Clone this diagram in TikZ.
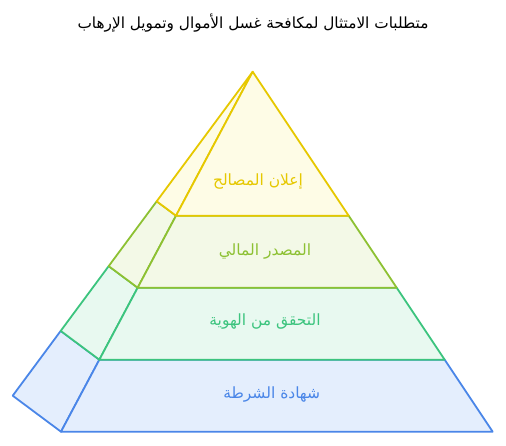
\documentclass[tikz,border=0pt]{standalone}
\usepackage{fontspec}
\usetikzlibrary{calc}
\TeXXeTstate=1
\newfontfamily\arabicfont[Script=Arabic]{DejaVu Sans}
\definecolor{yelline}{HTML}{E6C800}
\definecolor{yelfill}{HTML}{FEFCE6}
\definecolor{oliline}{HTML}{8DC133}
\definecolor{olifill}{HTML}{F3F9E7}
\definecolor{grnline}{HTML}{3CC47E}
\definecolor{grnfill}{HTML}{E8F9F0}
\definecolor{bluline}{HTML}{4A86E8}
\definecolor{blufill}{HTML}{E4EEFD}

\begin{document}
\begin{tikzpicture}[x=1pt, y=-1pt,
    slab/.style={line width=1.8pt, line join=round},
    lbl/.style={font=\arabicfont\fontsize{15.5}{18}\selectfont}]
    \useasboundingbox (0,0) rectangle (506,445);

    \coordinate (apex) at (252.7,71.7);
    \coordinate (fl)   at (61,431.7);
    \coordinate (fr)   at (492.7,431.7);
    \coordinate (bl)   at (12.7,395.7);

    \node[lbl, font=\arabicfont\fontsize{15.3}{18}\selectfont] (title) at (253,23)
        {\beginR متطلبات الامتثال لمكافحة غسل الأموال وتمويل الإرهاب\endR};

    % layers, bottom first so the upper edges stay on top
    \foreach \n/\lo/\hi/\col/\lx/\ly/\txt in {
        4/0.8/1/blu/271.7/394/{شهادة الشرطة},
        3/0.6/0.8/grn/265/322/{التحقق من الهوية},
        2/0.4/0.6/oli/265/251/{المصدر المالي},
        1/0/0.4/yel/258/181/{إعلان المصالح}}
    {
        \filldraw[slab, draw=\col line, fill=\col fill]
            ($(apex)!\hi!(bl)$) -- ($(apex)!\lo!(bl)$) -- ($(apex)!\lo!(fl)$) -- ($(apex)!\hi!(fl)$) -- cycle;
        \filldraw[slab, draw=\col line, fill=\col fill]
            ($(apex)!\hi!(fl)$) -- ($(apex)!\lo!(fl)$) -- ($(apex)!\lo!(fr)$) -- ($(apex)!\hi!(fr)$) -- cycle;
        \node[lbl, text=\col line] (layer\n) at (\lx,\ly) {\beginR\txt\endR};
    }
\end{tikzpicture}
\end{document}
